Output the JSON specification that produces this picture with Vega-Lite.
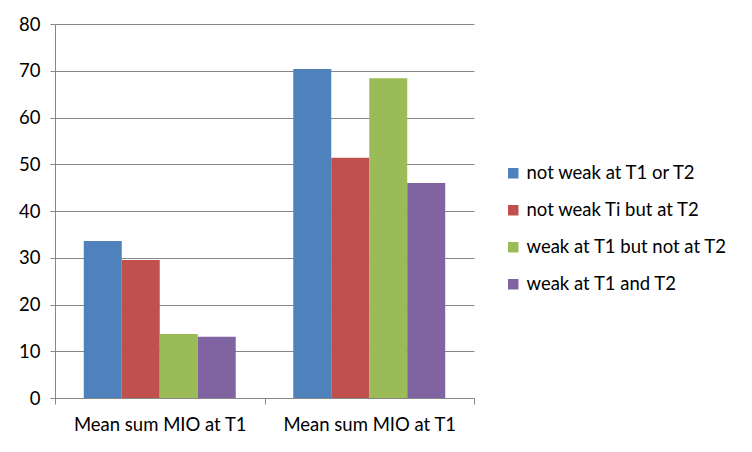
{
  "$schema": "https://vega.github.io/schema/vega-lite/v6.json",
  "width": 419,
  "height": 374,
  "autosize": {"type": "none"},
  "padding": {"left": 55, "top": 24, "right": 278, "bottom": 54},
  "background": "white",
  "config": {
    "view": {"stroke": null},
    "font": "Lato",
    "axis": {"labelFont": "Lato", "labelColor": "#000000"},
    "legend": {"labelFont": "Lato"}
  },
  "data": {
    "values": [
      {"group": "g1", "series": "not weak at T1 or T2", "value": 33.6},
      {"group": "g1", "series": "not weak Ti but at T2", "value": 29.5},
      {"group": "g1", "series": "weak at T1 but not at T2", "value": 13.7},
      {"group": "g1", "series": "weak at T1 and T2", "value": 13.1},
      {"group": "g2", "series": "not weak at T1 or T2", "value": 70.4},
      {"group": "g2", "series": "not weak Ti but at T2", "value": 51.4},
      {"group": "g2", "series": "weak at T1 but not at T2", "value": 68.4},
      {"group": "g2", "series": "weak at T1 and T2", "value": 46.0}
    ]
  },
  "mark": {"type": "bar"},
  "encoding": {
    "x": {
      "field": "group",
      "type": "nominal",
      "scale": {"paddingInner": 0, "paddingOuter": 0},
      "axis": {
        "title": null,
        "labelExpr": "(datum.value == 'g1' || datum.value == 'g2') ? 'Mean sum MIO at T1' : ''",
        "labelAngle": 0,
        "labelFontSize": 18.5,
        "labelPadding": 11,
        "labelLimit": 300,
        "tickBand": "extent",
        "ticks": true,
        "tickSize": 6,
        "tickColor": "#868686",
        "domainColor": "#868686",
        "grid": false
      }
    },
    "xOffset": {
      "field": "series",
      "type": "nominal",
      "sort": ["not weak at T1 or T2", "not weak Ti but at T2", "weak at T1 but not at T2", "weak at T1 and T2"],
      "scale": {"paddingInner": 0, "paddingOuter": 0.757}
    },
    "y": {
      "field": "value",
      "type": "quantitative",
      "scale": {"domain": [0, 80], "nice": false},
      "axis": {
        "title": null,
        "values": [0, 10, 20, 30, 40, 50, 60, 70, 80],
        "labelFontSize": 18.5,
        "labelPadding": 10,
        "tickSize": 5,
        "tickColor": "#868686",
        "domainColor": "#868686",
        "gridColor": "#868686",
        "grid": true
      }
    },
    "color": {
      "field": "series",
      "type": "nominal",
      "scale": {
        "domain": ["not weak at T1 or T2", "not weak Ti but at T2", "weak at T1 but not at T2", "weak at T1 and T2"],
        "range": ["#4F81BD", "#C0504D", "#9BBB59", "#8064A2"]
      },
      "legend": {
        "title": null,
        "orient": "none",
        "legendX": 449,
        "legendY": 140,
        "symbolType": "square",
        "symbolSize": 110,
        "symbolStrokeWidth": 0,
        "labelFontSize": 18.5,
        "labelLimit": 300,
        "rowPadding": 18,
        "labelOffset": 4
      }
    }
  }
}
